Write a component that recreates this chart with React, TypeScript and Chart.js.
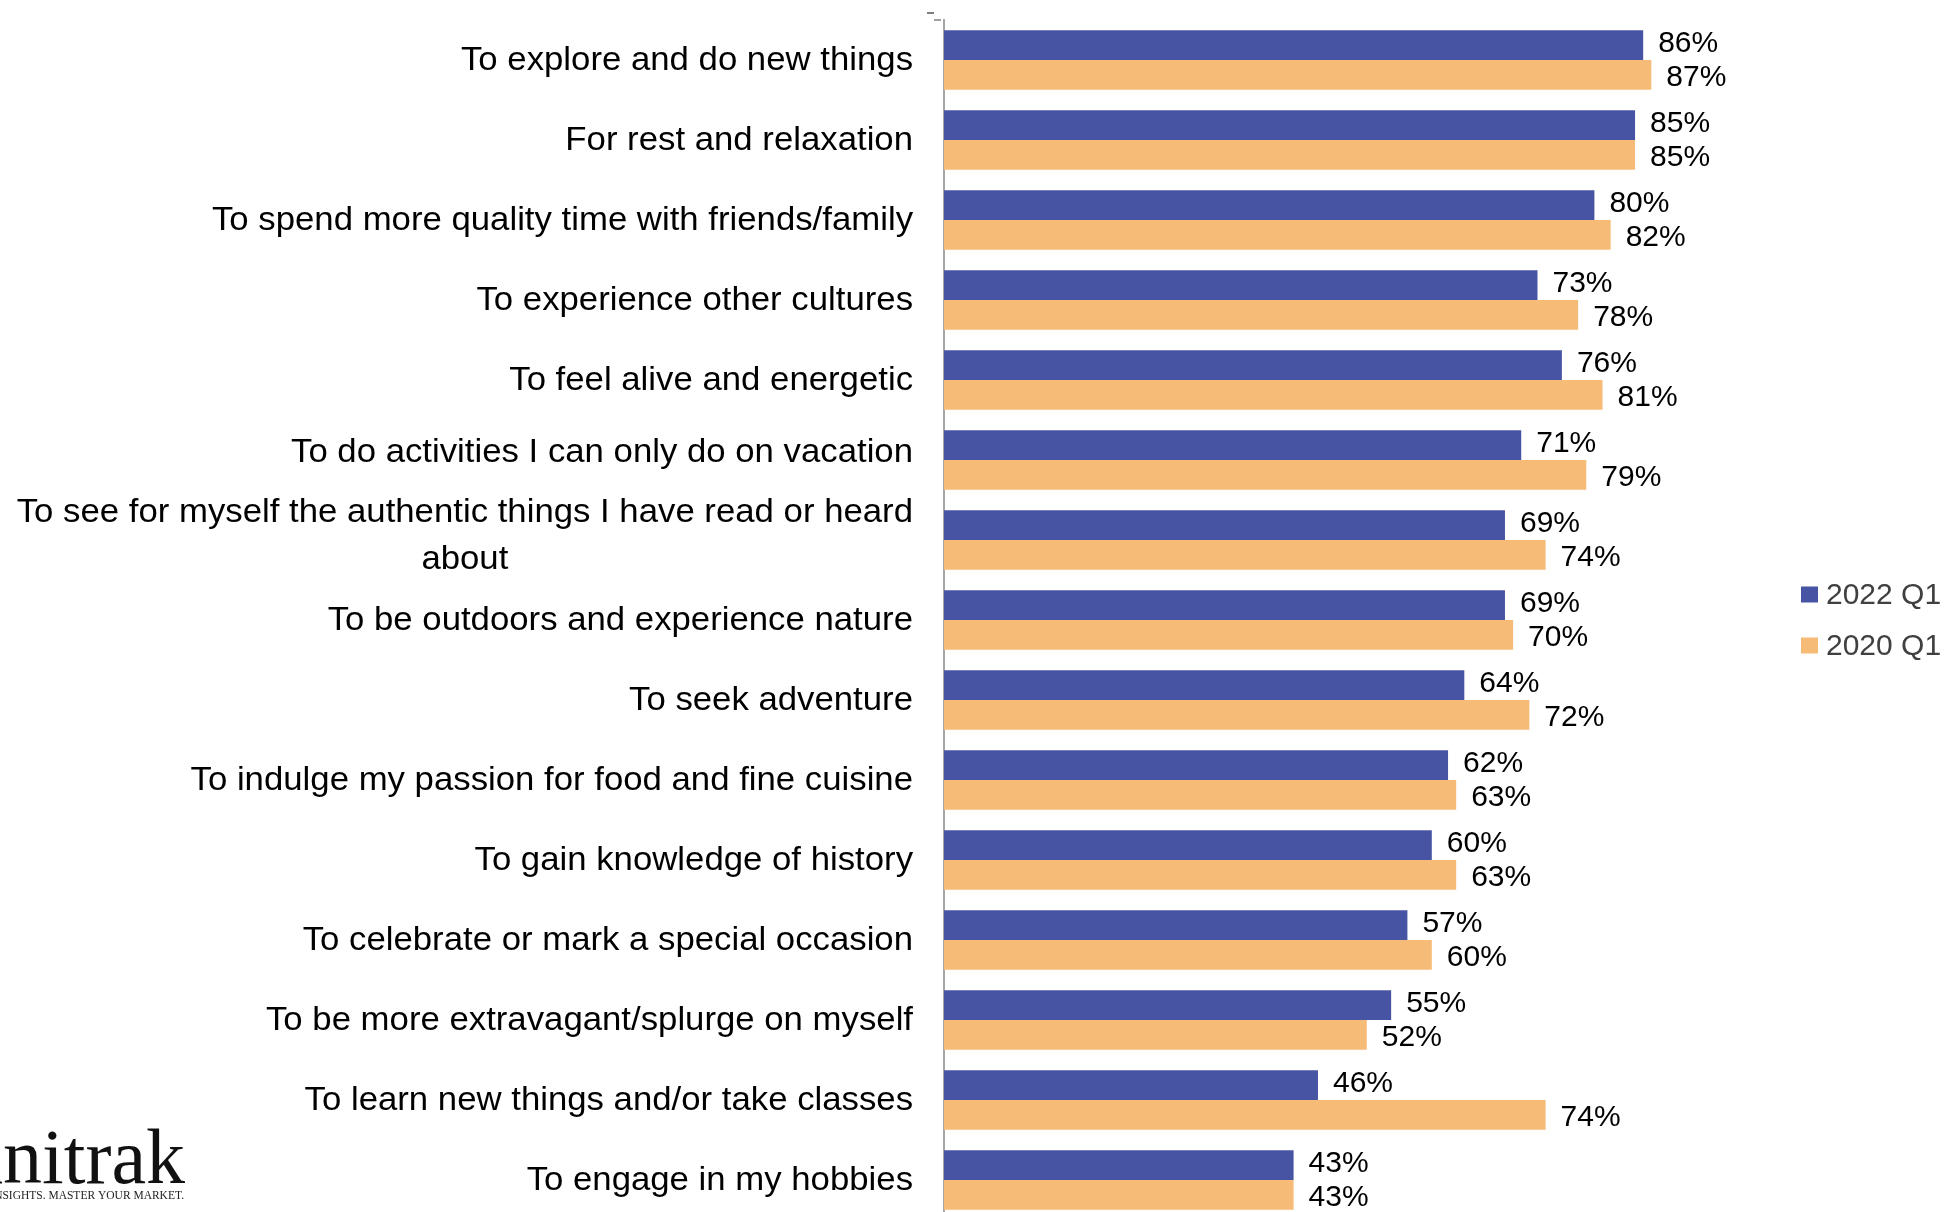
import React, { useEffect, useRef } from "react";
import { Chart, registerables } from "chart.js";

Chart.register(...registerables);

const categories: (string | string[])[] = [
  "To explore and do new things",
  "For rest and relaxation",
  "To spend more quality time with friends/family",
  "To experience other cultures",
  "To feel alive and energetic",
  "To do activities I can only do on vacation",
  ["To see for myself the authentic things I have read or heard", "about"],
  "To be outdoors and experience nature",
  "To seek adventure",
  "To indulge my passion for food and fine cuisine",
  "To gain knowledge of history",
  "To celebrate or mark a special occasion",
  "To be more extravagant/splurge on myself",
  "To learn new things and/or take classes",
  "To engage in my hobbies",
];

const seriesNames = ["2022 Q1", "2020 Q1"];
const values2022 = [86, 85, 80, 73, 76, 71, 69, 69, 64, 62, 60, 57, 55, 46, 43];
const values2020 = [87, 85, 82, 78, 81, 79, 74, 70, 72, 63, 63, 60, 52, 74, 43];
const seriesColors = ["#4754A3", "#F7BB78"];

const logoText = "Omnitrak";
const logoTagline = "SMARTER INSIGHTS. MASTER YOUR MARKET.";

const SANS = '"Liberation Sans", Arial, sans-serif';
const SERIF = '"Liberation Serif", "Times New Roman", serif';

const customDraw = {
  id: "customDraw",
  afterDatasetsDraw(chart: any) {
    const ctx = chart.ctx;
    ctx.save();
    ctx.font = `30px ${SANS}`;
    ctx.fillStyle = "#000000";
    ctx.textAlign = "left";
    ctx.textBaseline = "alphabetic";
    chart.data.datasets.forEach((ds: any, di: number) => {
      const meta = chart.getDatasetMeta(di);
      meta.data.forEach((bar: any, i: number) => {
        const v = ds.data[i];
        const dy = di === 0 ? 6.5 : 11.5;
        ctx.fillText(`${v}%`, bar.x + 15, bar.y + dy);
      });
    });
    ctx.restore();
  },
  afterDraw(chart: any) {
    const ctx = chart.ctx;
    const yScale = chart.scales.y;
    ctx.save();
    ctx.font = `33px ${SANS}`;
    ctx.fillStyle = "#000000";
    ctx.textAlign = "right";
    ctx.textBaseline = "alphabetic";
    const labelRight = yScale.right - 31;
    categories.forEach((lab, i) => {
      const y = yScale.getPixelForValue(i);
      const lines = Array.isArray(lab) ? lab : [lab];
      lines.forEach((line, li) => {
        let by: number;
        if (lines.length === 1) {
          by = y + 10.3;
          // label just above the wrapped one sits a little higher
          if (i + 1 < categories.length && Array.isArray(categories[i + 1])) by -= 8;
        } else by = y - 17.8 + li * 46.6;
        ctx.save();
        ctx.translate(labelRight, by);
        ctx.scale(1.053, 1);
        if (li > 0) {
          ctx.textAlign = "center";
          ctx.fillText(line, -ctx.measureText(lines[0]).width / 2, 0);
        } else {
          ctx.fillText(line, 0, 0);
        }
        ctx.restore();
      });
    });
    ctx.restore();

    // small tick marks above axis
    ctx.save();
    ctx.strokeStyle = "#808080";
    ctx.lineWidth = 2;
    ctx.beginPath();
    ctx.moveTo(927, 13);
    ctx.lineTo(934, 13);
    ctx.stroke();
    ctx.strokeStyle = "#A0A0A0";
    ctx.beginPath();
    ctx.moveTo(934, 20);
    ctx.lineTo(941, 20);
    ctx.stroke();
    ctx.restore();

    // legend
    ctx.save();
    ctx.font = `30px ${SANS}`;
    ctx.textAlign = "left";
    ctx.textBaseline = "middle";
    seriesNames.forEach((name, i) => {
      const cy = 594.5 + i * 51;
      ctx.fillStyle = seriesColors[i];
      ctx.fillRect(1801, cy - 8, 17, 16);
      ctx.fillStyle = "#404040";
      ctx.fillText(name, 1826, cy + 1);
    });
    ctx.restore();

    // logo
    ctx.save();
    ctx.fillStyle = "#111111";
    ctx.textAlign = "right";
    ctx.textBaseline = "alphabetic";
    ctx.font = `78px ${SERIF}`;
    ctx.fillText(logoText, 185, 1183);
    ctx.font = `11.5px ${SERIF}`;
    ctx.fillStyle = "#222222";
    ctx.fillText(logoTagline, 184, 1199);
    ctx.restore();
  },
};

export default function App() {
  const canvasRef = useRef<HTMLCanvasElement | null>(null);

  useEffect(() => {
    const canvas = canvasRef.current;
    if (!canvas) return;
    const chart = new Chart(canvas, {
      type: "bar",
      data: {
        labels: categories.map((c) => (Array.isArray(c) ? c.join(" ") : c)),
        datasets: [
          {
            label: seriesNames[0],
            data: values2022,
            backgroundColor: seriesColors[0],
            borderWidth: 0,
            categoryPercentage: 0.745,
            barPercentage: 1.0,
          },
          {
            label: seriesNames[1],
            data: values2020,
            backgroundColor: seriesColors[1],
            borderWidth: 0,
            categoryPercentage: 0.745,
            barPercentage: 1.0,
          },
        ],
      },
      options: {
        indexAxis: "y",
        responsive: false,
        maintainAspectRatio: false,
        animation: false,
        devicePixelRatio: 1,
        layout: { padding: { top: 20, bottom: 0, left: 0, right: 190 } },
        plugins: {
          legend: { display: false },
          tooltip: { enabled: false },
          title: { display: false },
        },
        scales: {
          x: {
            display: false,
            min: 0,
            max: 100,
          },
          y: {
            display: true,
            offset: true,
            grid: { display: false, drawTicks: false },
            border: { display: true, color: "#A6A6A6", width: 2 },
            ticks: { display: false },
            afterFit: (scale: any) => {
              scale.width = 944;
            },
          },
        },
      },
      plugins: [customDraw],
    });
    return () => chart.destroy();
  }, []);

  return (
    <div
      style={{
        position: "fixed",
        left: 0,
        top: 0,
        width: 1947,
        height: 1212,
        overflow: "hidden",
        background: "#ffffff",
      }}
    >
      <canvas
        ref={canvasRef}
        width={1947}
        height={1220}
        style={{ width: 1947, height: 1220, display: "block" }}
      />
    </div>
  );
}
